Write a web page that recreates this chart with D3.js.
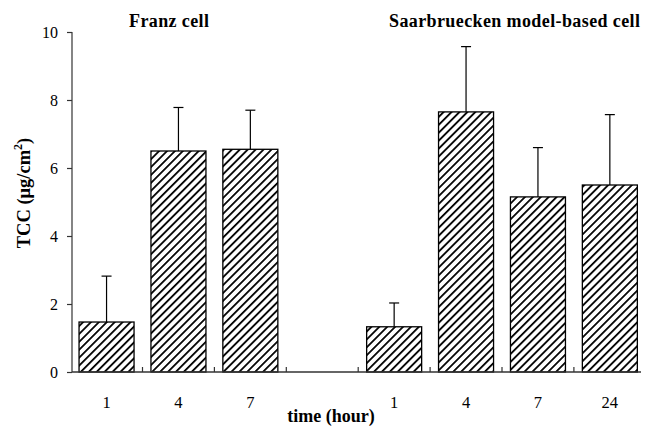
<!DOCTYPE html>
<html>
<head>
<meta charset="utf-8">
<script src="https://cdn.jsdelivr.net/npm/d3@7"></script>
<style>
  body { margin: 0; background: #fff; }
  text { font-family: "Liberation Serif", "Times New Roman", serif; fill: #000; }
</style>
</head>
<body>
<svg id="chart" width="646" height="427"></svg>
<script>
// slots along the x axis, one left empty between the two groups
const slots = ["f1", "f4", "f7", "gap", "s1", "s4", "s7", "s24"];
const slotLabels = ["1", "4", "7", "", "1", "4", "7", "24"];
const means = [1.47, 6.5, 6.55, null, 1.33, 7.65, 5.15, 5.5];
const errTops = [2.82, 7.78, 7.7, null, 2.03, 9.57, 6.6, 7.57];
const yTicks = [0, 2, 4, 6, 8, 10];
const groupTitles = ["Franz cell", "Saarbruecken model-based cell"];

const svg = d3.select("#chart");

const x = d3.scaleBand().domain(slots).range([70.6, 645.8])
    .paddingInner(0.235).paddingOuter(0.1175);
const y = d3.scaleLinear().domain([0, 10]).range([372, 32]);

// hatch fill
const defs = svg.append("defs");
const pat = defs.append("pattern")
    .attr("id", "hatch")
    .attr("patternUnits", "userSpaceOnUse")
    .attr("width", 5.6).attr("height", 5.6)
    .attr("patternTransform", "rotate(45)");
pat.append("rect").attr("width", 5.6).attr("height", 5.6).attr("fill", "#fff");
pat.append("line")
    .attr("x1", 0).attr("y1", 0).attr("x2", 0).attr("y2", 5.6)
    .attr("stroke", "#000").attr("stroke-width", 3.6);

const data = slots.map((s, i) => ({ slot: s, v: means[i], e: errTops[i] }))
    .filter(d => d.v !== null);

// error bars (drawn first so the bar covers the lower part)
const err = svg.append("g").attr("stroke", "#000").attr("stroke-width", 1.2);
data.forEach(d => {
    const cx = x(d.slot) + x.bandwidth() / 2;
    err.append("line").attr("x1", cx).attr("x2", cx).attr("y1", y(d.v)).attr("y2", y(d.e));
    err.append("line").attr("x1", cx - 5).attr("x2", cx + 5).attr("y1", y(d.e)).attr("y2", y(d.e));
});

svg.append("g").selectAll("rect").data(data).join("rect")
    .attr("x", d => x(d.slot))
    .attr("width", x.bandwidth())
    .attr("y", d => y(d.v))
    .attr("height", d => y(0) - y(d.v))
    .attr("fill", "url(#hatch)")
    .attr("stroke", "#000")
    .attr("stroke-width", 1.3);

// y axis
const yAxis = svg.append("g").attr("transform", "translate(72,0)")
    .call(d3.axisLeft(y).tickValues(yTicks).tickSize(5).tickPadding(9));
yAxis.select(".domain").attr("stroke", "#333").attr("stroke-width", 1.2).attr("d", "M0,32V372");
yAxis.selectAll(".tick line").attr("stroke", "#333").attr("stroke-width", 1.2);
yAxis.selectAll(".tick text").attr("font-size", 16).attr("font-family", "Liberation Serif");

// x axis: line, ticks between categories, labels under each bar
const xg = svg.append("g");
xg.append("line").attr("x1", 72).attr("x2", 641).attr("y1", 372).attr("y2", 372)
    .attr("stroke", "#333").attr("stroke-width", 1.3);
slots.slice(1).forEach(s => {
    const tx = x(s) - x.step() * x.paddingInner() / 2;
    xg.append("line").attr("x1", tx).attr("x2", tx).attr("y1", 367).attr("y2", 372)
        .attr("stroke", "#333").attr("stroke-width", 1.2);
});
xg.selectAll("text.lab").data(slots).join("text")
    .attr("class", "lab")
    .attr("x", s => x(s) + x.bandwidth() / 2)
    .attr("y", 408)
    .attr("text-anchor", "middle")
    .attr("font-size", 16.5)
    .text((s, i) => slotLabels[i]);

svg.append("text").attr("x", 331).attr("y", 422).attr("text-anchor", "middle")
    .attr("font-size", 18).attr("font-weight", "bold").text("time (hour)");

// y title
const yt = svg.append("text")
    .attr("transform", "translate(30,193) rotate(-90)")
    .attr("text-anchor", "middle")
    .attr("font-size", 18.5).attr("font-weight", "bold");
yt.append("tspan").text("TCC (μg/cm");
yt.append("tspan").attr("font-size", 12).attr("dy", -8).text("2");
yt.append("tspan").attr("dy", 8).text(")");

// group titles
svg.append("text").attr("x", 129).attr("y", 27).attr("font-size", 18)
    .attr("font-weight", "bold").attr("textLength", 80).text(groupTitles[0]);
svg.append("text").attr("x", 389).attr("y", 27).attr("font-size", 18)
    .attr("font-weight", "bold").attr("textLength", 251).text(groupTitles[1]);
</script>
</body>
</html>
